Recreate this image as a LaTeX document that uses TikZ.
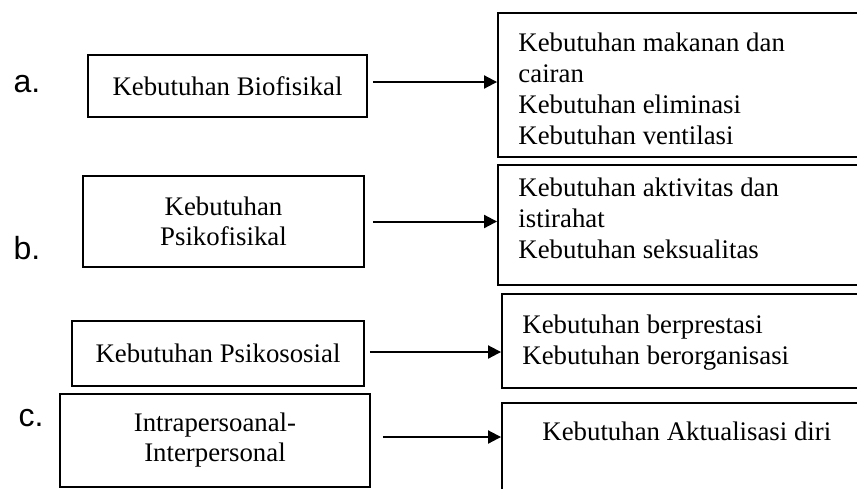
\documentclass[tikz,border=0pt]{standalone}
\usepackage{fontspec}
\setmainfont{Liberation Serif}
\newfontfamily\tagfont{Liberation Sans}
\usetikzlibrary{arrows.meta, positioning}

\begin{document}
\begin{tikzpicture}[x=0.5pt, y=-0.5pt,
    kind/.style={draw, line width=0.95pt, inner sep=0pt, align=center, font=\fontsize{13.4}{15}\selectfont},
    item/.style={draw, line width=0.95pt, inner sep=0pt},
    itemtext/.style={anchor=north west, inner sep=0pt, align=left, font=\fontsize{13.4}{15.5}\selectfont},
    tag/.style={inner sep=0pt, font=\tagfont\fontsize{16}{18}\selectfont},
    link/.style={-{Triangle[length=6.5pt, width=6.5pt]}, line width=1pt}]
    \useasboundingbox (0,0) rectangle (857,488);
    \clip (0,0) rectangle (857,488);

    % left column
    \node[kind, minimum width=139.5pt, minimum height=31pt] (bio) at (227.5,86) {Kebutuhan Biofisikal};
    \node[kind, minimum width=140.5pt, minimum height=45.5pt] (psifis) at (223.5,221.5) {Kebutuhan\\Psikofisikal};
    \node[kind, minimum width=146pt, minimum height=32.5pt] (psisos) at (218,353.5) {Kebutuhan Psikososial};
    \node[kind, minimum width=155pt, minimum height=46.5pt] (intra) at (215,440.5) {Intrapersoanal-\\Interpersonal};

    \node[tag] (taga) at (27,84) {a.};
    \node[tag] (tagb) at (27,248) {b.};
    \node[tag] (tagc) at (31,418) {c.};

    % right column
    \node[item, minimum width=191pt, minimum height=72pt] (food) at (689,85) {};
    \node[item, minimum width=191pt, minimum height=60pt] (rest) at (689,225) {};
    \node[item, minimum width=189pt, minimum height=47pt] (org) at (691,341) {};
    \node[item, minimum width=189pt, minimum height=53.5pt] (self) at (691,456.5) {};

    \node[itemtext] (foodtext) at ([xshift=10.5pt, yshift=-10pt]food.north west) {Kebutuhan makanan dan\\cairan\\Kebutuhan eliminasi\\Kebutuhan ventilasi};
    \node[itemtext] (resttext) at ([xshift=10.5pt, yshift=-6.5pt]rest.north west) {Kebutuhan aktivitas dan\\istirahat\\Kebutuhan seksualitas};
    \node[itemtext] (orgtext) at ([xshift=10.5pt, yshift=-10.5pt]org.north west) {Kebutuhan berprestasi\\Kebutuhan berorganisasi};
    \node[itemtext] (selftext) at ([xshift=20.5pt, yshift=-9.5pt]self.north west) {Kebutuhan Aktualisasi diri};

    % arrows
    \coordinate (s1) at ([xshift=2.5pt, yshift=2pt]bio.east);
    \coordinate (s2) at ([xshift=4pt]psifis.east);
    \coordinate (s3) at ([xshift=2.5pt, yshift=0.75pt]psisos.east);
    \coordinate (s4) at ([xshift=6pt, yshift=1.75pt]intra.east);
    \draw[link] (s1) -- (s1 -| food.west);
    \draw[link] (s2) -- (s2 -| rest.west);
    \draw[link] (s3) -- (s3 -| org.west);
    \draw[link] (s4) -- (s4 -| self.west);
\end{tikzpicture}
\end{document}
